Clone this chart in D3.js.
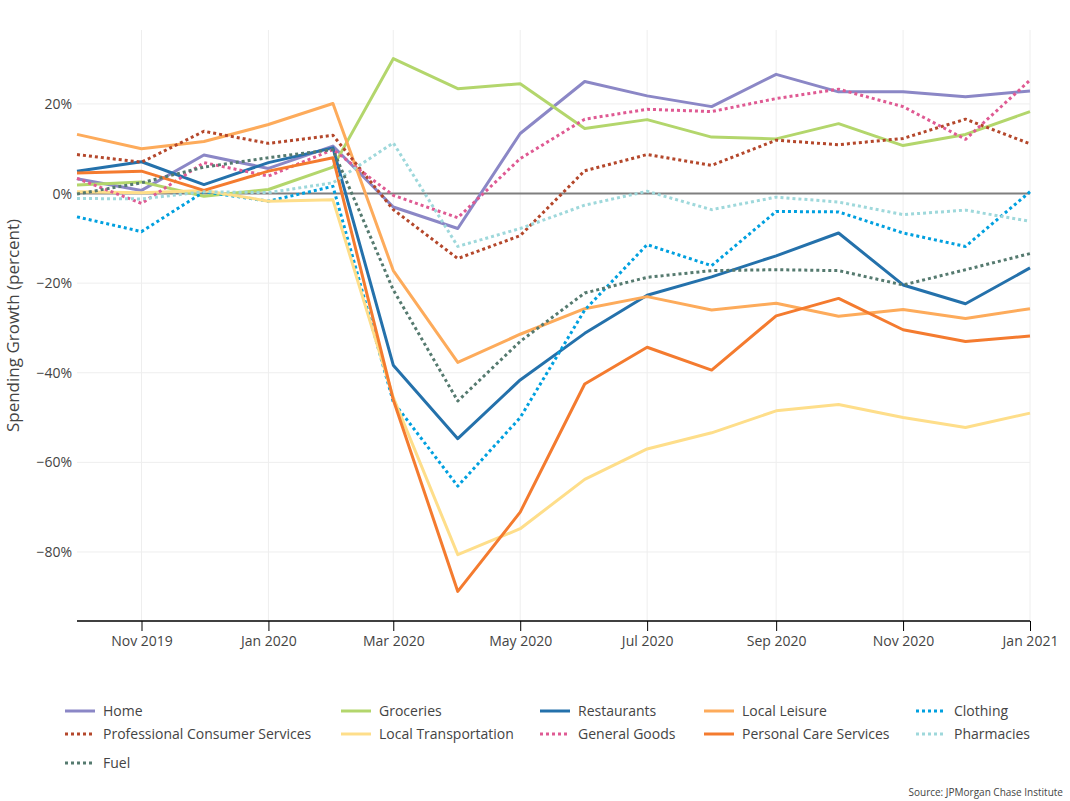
<!DOCTYPE html>
<html>
<head>
<meta charset="utf-8">
<script src="https://cdn.jsdelivr.net/npm/d3@7"></script>
<style>
  html, body { margin: 0; padding: 0; background: #fff; }
  svg { display: block; font-family: "Open Sans", sans-serif; }
</style>
</head>
<body>
<svg id="chart" width="1070" height="801"></svg>
<script>
// ---- data ----
const months = ["2019-10","2019-11","2019-12","2020-01","2020-02","2020-03","2020-04","2020-05",
                "2020-06","2020-07","2020-08","2020-09","2020-10","2020-11","2020-12","2021-01"];
const home          = [3.3, 0.7, 8.6, 5.6, 10.6, -3.0, -7.8, 13.4, 25.0, 21.8, 19.4, 26.6, 22.7, 22.7, 21.6, 22.9];
const groceries     = [1.9, 2.6, -0.6, 0.9, 5.9, 30.1, 23.4, 24.5, 14.5, 16.5, 12.6, 12.2, 15.6, 10.7, 13.2, 18.3];
const restaurants   = [5.0, 7.1, 2.0, 6.9, 10.2, -38.3, -54.7, -41.6, -31.2, -22.7, -18.6, -13.9, -8.8, -20.4, -24.6, -16.6];
const localLeisure  = [13.2, 10.0, 11.6, 15.4, 20.1, -17.2, -37.7, -31.4, -25.7, -23.0, -26.0, -24.5, -27.4, -25.9, -27.9, -25.7];
const clothing      = [-5.2, -8.5, 0.4, -1.7, 1.6, -46.5, -65.3, -50.0, -26.0, -11.4, -16.1, -4.0, -4.1, -8.8, -11.8, 0.4];
const professional  = [8.7, 7.0, 13.9, 11.2, 13.0, -3.6, -14.5, -9.4, 5.1, 8.7, 6.3, 11.9, 10.9, 12.3, 16.6, 11.1];
const localTransport= [0.4, 0.2, 0.7, -1.7, -1.4, -45.5, -80.6, -74.8, -63.8, -57.0, -53.4, -48.5, -47.1, -50.0, -52.2, -49.0];
const generalGoods  = [3.4, -2.2, 6.9, 3.9, 9.8, -0.4, -5.4, 7.8, 16.6, 18.8, 18.3, 21.2, 23.3, 19.4, 12.1, 25.3];
const personalCare  = [4.6, 5.0, 0.7, 5.0, 8.0, -46.0, -88.8, -71.1, -42.5, -34.3, -39.4, -27.3, -23.4, -30.4, -33.0, -31.8];
const pharmacies    = [-1.1, -1.2, 0.4, 0.2, 2.4, 11.3, -11.8, -7.8, -2.6, 0.5, -3.6, -0.8, -1.9, -4.7, -3.7, -6.2];
const fuel          = [-0.1, 2.4, 5.9, 8.0, 9.8, -21.5, -46.3, -33.0, -22.2, -18.7, -17.2, -17.0, -17.2, -20.4, -17.0, -13.4];

const seriesNames = ["Home","Groceries","Restaurants","Local Leisure","Clothing",
                     "Professional Consumer Services","Local Transportation","General Goods",
                     "Personal Care Services","Pharmacies","Fuel"];
const seriesValues = [home, groceries, restaurants, localLeisure, clothing,
                      professional, localTransport, generalGoods, personalCare, pharmacies, fuel];
const yTicks = [-80, -60, -40, -20, 0, 20];
const yTitle = "Spending Growth (percent)";
const sourceText = "Source: JPMorgan Chase Institute";

(function () {
// ---- styles ----
const colors = ["#8b87c6","#b3d66c","#2471ab","#fdab5b","#00a0df",
                "#b4472b","#fede8a","#df5a93","#f47b2f","#9ed8db","#557a6f"];
const dotted = [false,false,false,false,true, true,false,true,false,true,true];

const svg = d3.select("#chart");
const pLeft = 77, pRight = 1030, pTop = 30, pBottom = 621;
const parse = d3.timeParse("%Y-%m");
const dates = months.map(parse);

const x = d3.scaleTime().domain([parse("2019-10"), parse("2021-01")]).range([pLeft, pRight]);
const y = d3.scaleLinear().domain([-95.4, 36.5]).range([pBottom, pTop]);

// grid
const g = svg.append("g");
const xTickVals = d3.timeMonth.every(2).range(parse("2019-10"), new Date(2021, 0, 2));
g.selectAll(".vg").data(xTickVals).enter().append("line")
  .attr("x1", d => x(d)).attr("x2", d => x(d)).attr("y1", pTop).attr("y2", pBottom)
  .attr("stroke", "#eeeeee").attr("stroke-width", 1);
g.selectAll(".hg").data(yTicks.filter(d => d !== 0)).enter().append("line")
  .attr("x1", pLeft).attr("x2", pRight).attr("y1", d => y(d)).attr("y2", d => y(d))
  .attr("stroke", "#eeeeee").attr("stroke-width", 1);

// zero line
g.append("line").attr("x1", pLeft).attr("x2", pRight).attr("y1", y(0)).attr("y2", y(0))
  .attr("stroke", "#7f7f7f").attr("stroke-width", 2);

// y axis labels
const yAxis = d3.axisLeft(y).tickValues(yTicks).tickSize(0).tickPadding(5)
  .tickFormat(d => d3.format(".0f")(d) + "%");
const yg = svg.append("g").attr("transform", `translate(${pLeft},0)`).call(yAxis);
yg.select(".domain").remove();
yg.selectAll("text").attr("font-size", 14).attr("fill", "#444").attr("font-family", "Open Sans");

// x axis
const xAxis = d3.axisBottom(x).tickValues(xTickVals).tickSize(10).tickPadding(5)
  .tickFormat(d3.timeFormat("%b %Y"));
const xg = svg.append("g").attr("transform", `translate(0,${pBottom})`).call(xAxis);
xg.select(".domain").attr("stroke", "#000").attr("stroke-width", 1.5).attr("d", `M${pLeft},0H${pRight}`);
xg.selectAll(".tick line").attr("stroke", "#000").attr("stroke-width", 1);
xg.selectAll("text").attr("font-size", 14).attr("fill", "#444").attr("font-family", "Open Sans");

// y title
svg.append("text").attr("transform", `translate(19,${(pTop + pBottom) / 2}) rotate(-90)`)
  .attr("text-anchor", "middle").attr("font-size", 17).attr("fill", "#444").text(yTitle);

// lines
const line = d3.line().x((d, i) => x(dates[i])).y(d => y(d));
const lg = svg.append("g");
seriesValues.forEach((vals, k) => {
  lg.append("path").datum(vals).attr("d", line).attr("fill", "none")
    .attr("stroke", colors[k]).attr("stroke-width", 3)
    .attr("stroke-linejoin", "round")
    .attr("stroke-dasharray", dotted[k] ? "3,3" : null);
});

// legend
const colX = [65, 341, 540, 704, 916];
const rowY = [711, 734, 763];
const leg = svg.append("g");
seriesNames.forEach((name, k) => {
  const col = k % 5, row = Math.floor(k / 5);
  const lx = colX[col], ly = rowY[row];
  leg.append("line").attr("x1", lx).attr("x2", lx + 30).attr("y1", ly).attr("y2", ly)
    .attr("stroke", colors[k]).attr("stroke-width", 3)
    .attr("stroke-dasharray", dotted[k] ? "3,3" : null);
  leg.append("text").attr("x", lx + 38).attr("y", ly).attr("dy", "0.35em")
    .attr("font-size", 14).attr("fill", "#444").text(name);
});

// source
svg.append("text").attr("x", 1063).attr("y", 792).attr("dy", "0.35em").attr("text-anchor", "end")
  .attr("font-size", 10).attr("fill", "#444").text(sourceText);
})();
</script>
</body>
</html>
